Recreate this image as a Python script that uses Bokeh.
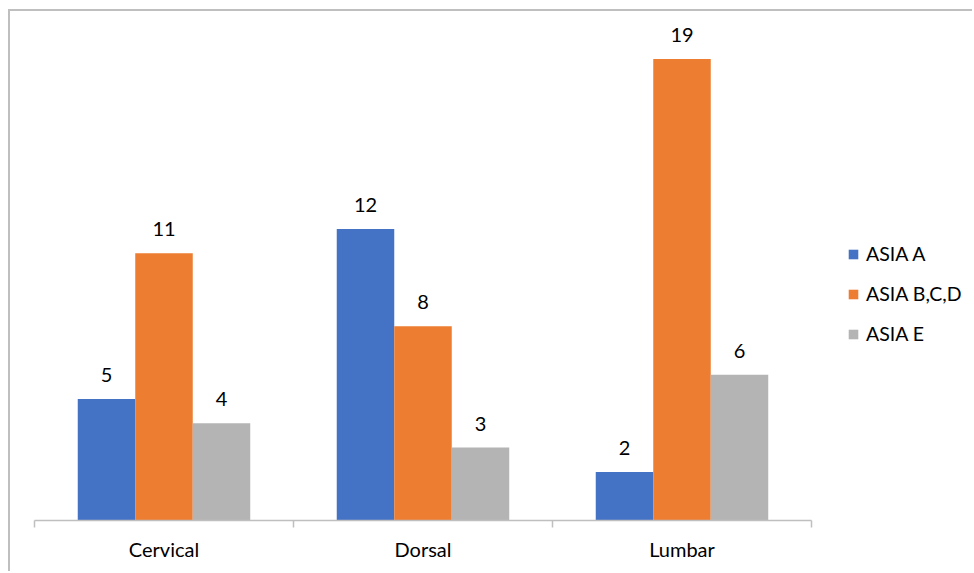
from bokeh.plotting import figure
from bokeh.models import ColumnDataSource, Range1d, FixedTicker, Legend, LegendItem
from bokeh.transform import dodge
from bokeh.core.properties import value
from bokeh.embed import file_html
from bokeh.resources import INLINE

# Injury level categories and ASIA grade counts
categories = ["Cervical", "Dorsal", "Lumbar"]
asia_a = [5, 12, 2]
asia_bcd = [11, 8, 19]
asia_e = [4, 3, 6]
series_names = ["ASIA A", "ASIA B,C,D", "ASIA E"]
colors = ["#4472C4", "#ED7D31", "#B4B4B4"]

FONT = "Lato"

centers = [i + 0.5 for i in range(len(categories))]
src = ColumnDataSource(dict(
    x=centers,
    a=asia_a, bcd=asia_bcd, e=asia_e,
    a_txt=[str(v) for v in asia_a],
    bcd_txt=[str(v) for v in asia_bcd],
    e_txt=[str(v) for v in asia_e],
))

# canvas offset inside the bordered box
OX, OY = 10, 11
n = len(categories)
# plot area runs to the right edge; the category axis covers the first 777 px of it
x_end = n * (974 - 34) / 777

p = figure(width=974 - OX, height=573 - OY, output_backend="svg", toolbar_location=None,
           x_range=Range1d(0, x_end), y_range=Range1d(0, 20.58),
           min_border_left=34 - OX, min_border_right=0, min_border_top=20 - OY,
           min_border_bottom=53, margin=(OY - 2, 0, 0, OX - 2))
p.styles = {"border-left": "2px solid #BFBFBF", "border-top": "2px solid #BFBFBF"}
p.outline_line_color = None
p.xgrid.visible = False
p.ygrid.visible = False
p.yaxis.visible = False
p.background_fill_color = "white"
p.border_fill_color = "white"

bar_w = 0.222
offsets = [-bar_w, 0.0, bar_w]
fields = ["a", "bcd", "e"]
renderers = []
for f, off, col in zip(fields, offsets, colors):
    r = p.vbar(x=dodge("x", off, range=p.x_range), top=f, width=bar_w, bottom=0,
               source=src, fill_color=col, line_color=None)
    renderers.append(r)
    p.text(x=dodge("x", off, range=p.x_range), y=f, text=f + "_txt", source=src,
           text_align="center", text_baseline="bottom", y_offset=-17,
           text_font=value(FONT), text_font_size="20px", text_color="#000000")

# category axis: labels at group centres, tick marks at group boundaries
ax = p.xaxis[0]
ax.bounds = (0, n)
ax.ticker = FixedTicker(ticks=centers, minor_ticks=list(range(n + 1)))
ax.major_label_overrides = {c: lab for c, lab in zip(centers, categories)}
ax.major_tick_line_color = None
ax.major_tick_out = 0
ax.major_tick_in = 0
ax.minor_tick_out = 7
ax.minor_tick_in = 0
ax.minor_tick_line_color = "#BFBFBF"
ax.minor_tick_line_width = 1.5
ax.axis_line_color = "#BFBFBF"
ax.axis_line_width = 1.5
ax.major_label_text_font = FONT
ax.major_label_text_font_size = "20px"
ax.major_label_text_color = "#000000"
ax.major_label_standoff = 9

legend = Legend(items=[LegendItem(label=s, renderers=[r]) for s, r in zip(series_names, renderers)],
                location=(813, 175), orientation="vertical",
                label_text_font=FONT, label_text_font_size="19.5px",
                label_text_color="#000000", glyph_width=12, glyph_height=12,
                label_height=20, spacing=17, padding=0, margin=0,
                label_standoff=7, border_line_color=None,
                background_fill_alpha=0)
p.add_layout(legend)

open("out.html", "w").write(file_html(p, INLINE))
